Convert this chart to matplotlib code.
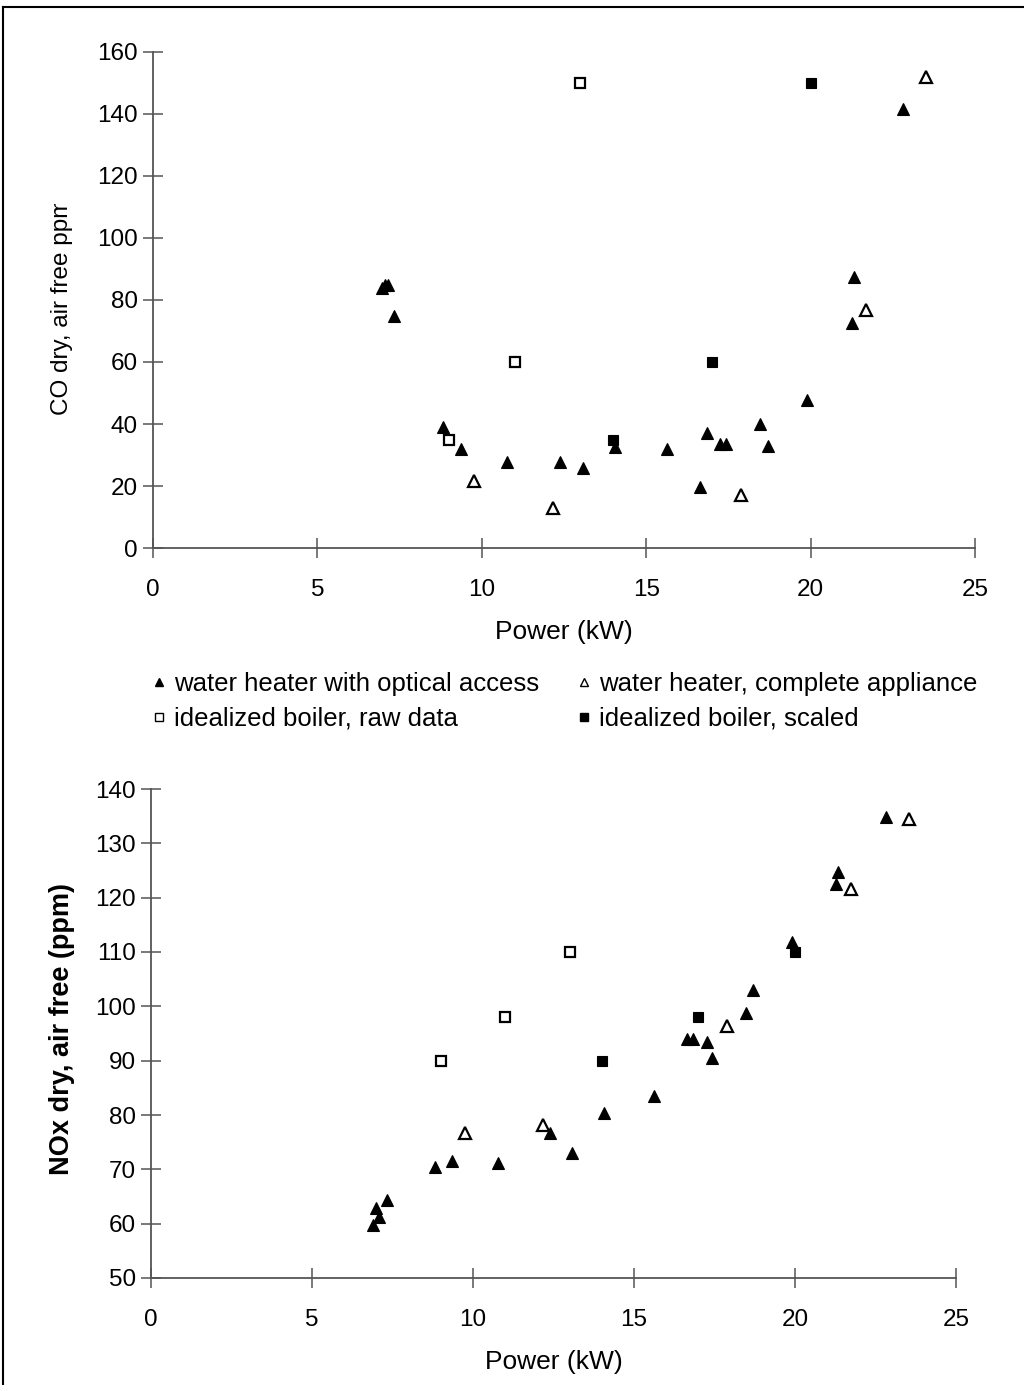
import matplotlib
matplotlib.use("Agg")
import matplotlib.pyplot as plt
from matplotlib.lines import Line2D
from matplotlib.transforms import Bbox, TransformedBbox

plt.rcParams['font.family'] = ['Liberation Sans', 'DejaVu Sans']

# ---------------- data: CO (top) ----------------
co_opt_x = [6.95, 7.05, 7.15, 7.33, 8.83, 9.36, 10.78, 12.38, 13.07, 14.06, 15.62,
            16.64, 16.84, 17.24, 17.42, 18.46, 18.7, 19.88, 21.26, 21.32, 22.8]
co_opt_y = [84, 85, 85, 75, 39, 32, 27.6, 27.8, 25.8, 32.5, 31.9,
            19.6, 37.1, 33.6, 33.6, 39.9, 33, 47.7, 72.5, 87.4, 141.6]
co_app_x = [9.76, 12.17, 17.87, 21.68, 23.5]
co_app_y = [21.7, 12.8, 17.2, 76.7, 152]
co_raw_x = [9, 11, 13]
co_raw_y = [35, 60, 150]
co_scl_x = [14, 17, 20]
co_scl_y = [35, 60, 150]

# ---------------- data: NOx (bottom) ----------------
nox_opt_x = [6.9, 7.0, 7.08, 7.32, 8.83, 9.36, 10.79, 12.39, 13.06, 14.08, 15.63,
             16.64, 16.84, 17.26, 17.41, 18.48, 18.7, 19.9, 21.27, 21.35, 22.83]
nox_opt_y = [59.8, 62.8, 61.3, 64.4, 70.5, 71.5, 71.2, 76.6, 73.0, 80.3, 83.5,
             94.0, 94.0, 93.5, 90.4, 98.7, 103.0, 111.8, 122.6, 124.8, 134.8]
nox_app_x = [9.75, 12.16, 17.88, 21.73, 23.55]
nox_app_y = [76.6, 78.2, 96.3, 121.6, 134.5]
nox_raw_x = [9, 11, 13]
nox_raw_y = [90, 98, 110]
nox_scl_x = [14, 17, 20]
nox_scl_y = [90, 98, 110]

legend_labels = ["water heater with optical access", "water heater, complete appliance",
                 "idealized boiler, raw data", "idealized boiler, scaled"]

W, H = 1024, 1385
fig = plt.figure(figsize=(W / 100, H / 100), dpi=100)

def fx(px):
    return px / W

def fy(py):
    return 1 - py / H

axis_col = '#555555'
tick_fs = 17.5
lab_fs = 19

def style_axes(ax):
    for s in ['top', 'right']:
        ax.spines[s].set_visible(False)
    for s in ['left', 'bottom']:
        ax.spines[s].set_color(axis_col)
        ax.spines[s].set_linewidth(1.3)
    ax.tick_params(direction='inout', length=14, width=1.1, color=axis_col,
                   labelsize=tick_fs, pad=4)
    ax.tick_params(axis='x', pad=15)

def draw_series(ax, ox, oy, ax_, ay, rx, ry, sx, sy):
    ax.plot(ox, oy, ls='none', marker='^', ms=9, mfc='black', mec='black', mew=0.8, clip_on=False)
    ax.plot(ax_, ay, ls='none', marker='^', ms=8.5, mfc='white', mec='black', mew=1.6, clip_on=False)
    ax.plot(rx, ry, ls='none', marker='s', ms=7.5, mfc='white', mec='black', mew=1.6, clip_on=False)
    ax.plot(sx, sy, ls='none', marker='s', ms=7.5, mfc='black', mec='black', mew=0.8, clip_on=False)

# ---- top axes ----
ax1 = fig.add_axes([fx(153), fy(548), fx(975) - fx(153), fy(52) - fy(548)])
draw_series(ax1, co_opt_x, co_opt_y, co_app_x, co_app_y, co_raw_x, co_raw_y, co_scl_x, co_scl_y)
ax1.set_xlim(0, 25)
ax1.set_ylim(0, 160)
ax1.set_xticks(range(0, 26, 5))
ax1.set_yticks(range(0, 161, 20))
style_axes(ax1)
yl1 = ax1.set_ylabel("CO dry, air free ppm", fontsize=17.5)
ax1.yaxis.set_label_coords(-0.097, 0.487)
ax1.set_xlabel("Power (kW)", fontsize=lab_fs, labelpad=14)
yl1.set_clip_box(TransformedBbox(Bbox([[0, 0], [1, fy(204)]]), fig.transFigure))
yl1.set_clip_on(True)

# ---- bottom axes ----
ax2 = fig.add_axes([fx(151), fy(1278), fx(956) - fx(151), fy(789) - fy(1278)])
draw_series(ax2, nox_opt_x, nox_opt_y, nox_app_x, nox_app_y, nox_raw_x, nox_raw_y, nox_scl_x, nox_scl_y)
ax2.set_xlim(0, 25)
ax2.set_ylim(50, 140)
ax2.set_xticks(range(0, 26, 5))
ax2.set_yticks(range(50, 141, 10))
style_axes(ax2)
yl2 = ax2.set_ylabel("NOx dry, air free (ppm)", fontsize=19.5, fontweight='bold')
ax2.yaxis.set_label_coords(-0.094, 0.51)
ax2.set_xlabel("Power (kW)", fontsize=lab_fs, labelpad=14)
yl2.set_clip_box(TransformedBbox(Bbox([[0, 0], [1, fy(885)]]), fig.transFigure))
yl2.set_clip_on(True)

# ---- legend (two columns, as two legends) ----
h_opt = Line2D([], [], ls='none', marker='^', ms=6, mfc='black', mec='black')
h_app = Line2D([], [], ls='none', marker='^', ms=6, mfc='white', mec='black', mew=1.0)
h_raw = Line2D([], [], ls='none', marker='s', ms=6, mfc='white', mec='black', mew=1.0)
h_scl = Line2D([], [], ls='none', marker='s', ms=6, mfc='black', mec='black')
leg_kw = dict(loc='upper left', frameon=False, fontsize=18.5, handlelength=0.6,
              handletextpad=0.3, labelspacing=0.42, borderaxespad=0, borderpad=0)
fig.legend([h_opt, h_raw], [legend_labels[0], legend_labels[2]],
           bbox_to_anchor=(fx(151), fy(672)), **leg_kw)
fig.legend([h_app, h_scl], [legend_labels[1], legend_labels[3]],
           bbox_to_anchor=(fx(576), fy(672)), **leg_kw)

# ---- figure border (top and left) ----
fig.add_artist(Line2D([fx(3), 1], [fy(7), fy(7)], color='black', lw=1.5, transform=fig.transFigure))
fig.add_artist(Line2D([fx(3), fx(3)], [fy(7), 0], color='black', lw=1.5, transform=fig.transFigure))

fig.savefig("out.png", dpi=100, facecolor='white')
